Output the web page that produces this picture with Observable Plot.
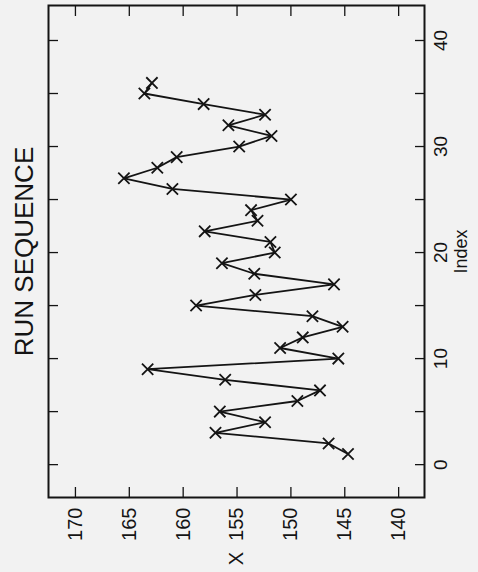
<!DOCTYPE html>
<html>
<head>
<meta charset="utf-8">
<script src="https://cdn.jsdelivr.net/npm/d3@7"></script>
<script src="https://cdn.jsdelivr.net/npm/@observablehq/plot@0.6"></script>
<style>
  html, body { margin: 0; padding: 0; background: #f2f2f2; overflow: hidden; }
  #chart svg { display: block; }
</style>
</head>
<body>
<div id="chart"></div>
<script>
// Run sequence data (index vs. measured X)
const indexValues = [1,2,3,4,5,6,7,8,9,10,11,12,13,14,15,16,17,18,19,20,21,22,23,24,25,26,27,28,29,30,31,32,33,34,35,36];
const xValues = [144.7,146.5,157.0,152.4,156.6,149.4,147.3,156.1,163.3,145.6,151.0,148.9,145.2,148.0,158.8,153.3,146.0,153.4,156.4,151.5,151.9,158.0,153.1,153.7,150.0,161.0,165.5,162.4,160.6,154.8,151.8,155.8,152.4,158.1,163.6,162.9];
const xTicks = [170,165,160,155,150,145,140];
const indexTicks = [0,5,10,15,20,25,30,35,40];
const indexLabels = [0,10,20,30,40];
const titleText = "RUN SEQUENCE";
const xLabel = "X";
const indexLabel = "Index";

const data = indexValues.map((i, k) => ({Index: i, X: xValues[k]}));
const ink = "#141414";

const chart = Plot.plot({
  width: 478,
  height: 572,
  marginLeft: 48,
  marginRight: 54,
  marginTop: 5,
  marginBottom: 75,
  style: {background: "transparent", fontFamily: "'Liberation Sans', Arial, Helvetica, sans-serif", color: ink},
  x: {domain: [172.5, 137.6]},
  y: {domain: [-3.1, 43.3]},
  marks: [
    // inward ticks on all four sides
    Plot.axisX(xTicks, {anchor: "bottom", tickSize: 10, insetBottom: 10, fill: "none", label: null, stroke: ink, strokeWidth: 1.3}),
    Plot.axisX(xTicks, {anchor: "top", tickSize: 10, insetTop: 10, fill: "none", label: null, stroke: ink, strokeWidth: 1.3}),
    Plot.axisY(indexTicks, {anchor: "right", tickSize: 10, insetRight: 10, fill: "none", label: null, stroke: ink, strokeWidth: 1.3}),
    Plot.axisY(indexTicks, {anchor: "left", tickSize: 10, insetLeft: 10, fill: "none", label: null, stroke: ink, strokeWidth: 1.3}),
    // tick labels (rotated)
    Plot.axisX(xTicks, {anchor: "bottom", tickSize: 0, tickRotate: -90, tickPadding: 10, textAnchor: "end", lineAnchor: "middle", fontSize: 20, label: null, fill: ink}),
    Plot.axisY(indexLabels, {anchor: "right", tickSize: 0, tickRotate: -90, tickPadding: 9, textAnchor: "middle", lineAnchor: "top", fontSize: 19, label: null, fill: ink}),
    Plot.frame({stroke: ink, strokeWidth: 2}),
    Plot.line(data, {x: "X", y: "Index", stroke: ink, strokeWidth: 1.8}),
    Plot.dot(data, {x: "X", y: "Index", symbol: "times", r: 5.2, stroke: ink, strokeWidth: 1.8}),
    // titles
    Plot.text([titleText], {frameAnchor: "left", dx: -24, rotate: -90, textAnchor: "middle", lineAnchor: "middle", fontSize: 26, fill: ink}),
    Plot.text([indexLabel], {frameAnchor: "right", dx: 37, rotate: -90, textAnchor: "middle", lineAnchor: "middle", fontSize: 18, fill: ink}),
    Plot.text([xLabel], {frameAnchor: "bottom", dy: 61, rotate: -90, textAnchor: "middle", lineAnchor: "middle", fontSize: 20, fill: ink})
  ]
});
document.getElementById("chart").appendChild(chart);
</script>
</body>
</html>
